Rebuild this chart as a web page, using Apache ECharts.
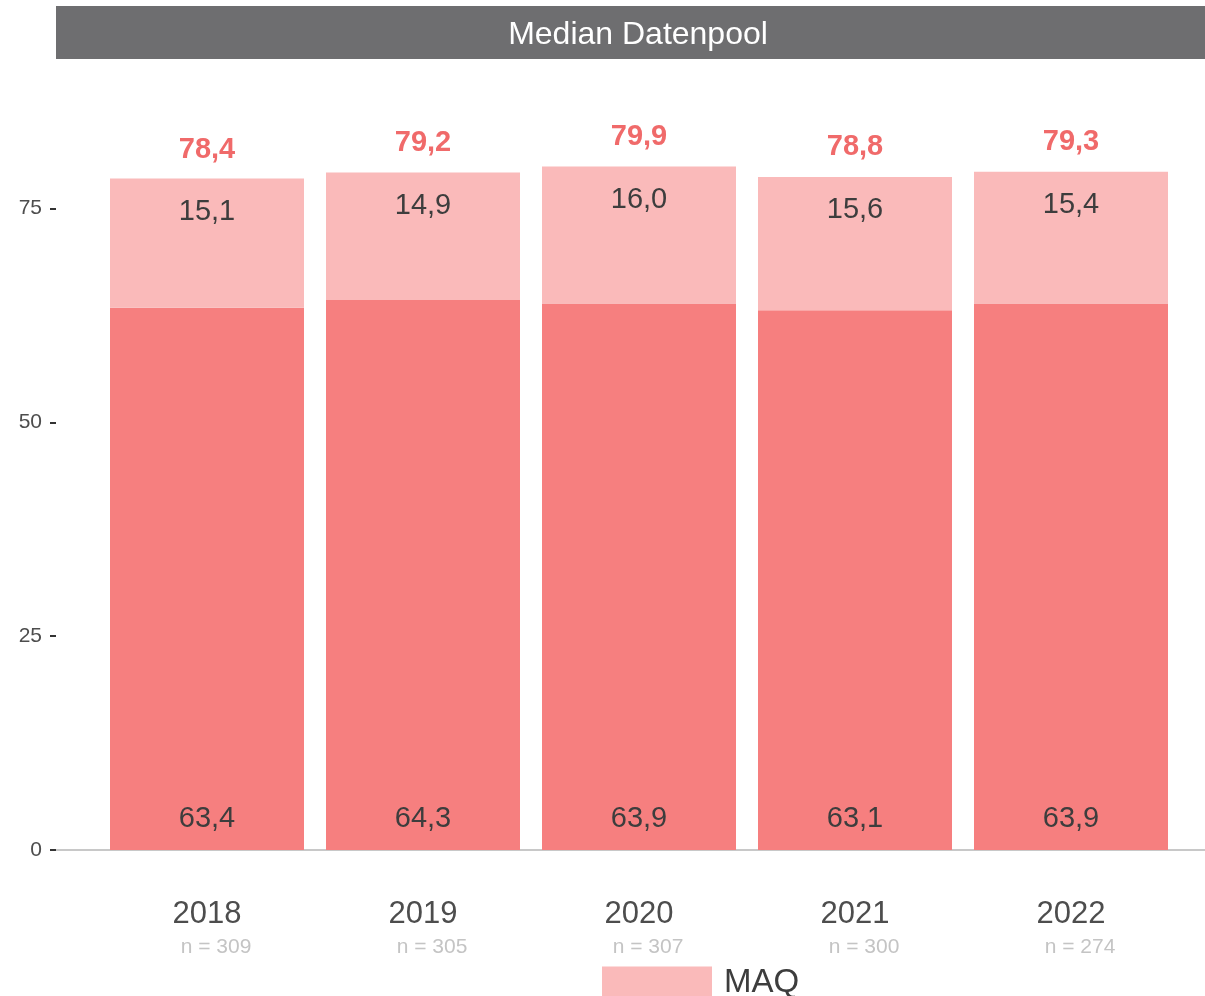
<!DOCTYPE html>
<html>
<head>
<meta charset="utf-8">
<script src="https://cdn.jsdelivr.net/npm/echarts@6/dist/echarts.min.js"></script>
<style>
  html, body { margin: 0; padding: 0; background: #fff; }
  #chart { width: 1205px; height: 996px; }
</style>
</head>
<body>
<div id="chart"></div>
<script>
// Daten
const years = ['2018', '2019', '2020', '2021', '2022']
const nCounts = [309, 305, 307, 300, 274]
const baseValues = [63.4, 64.3, 63.9, 63.1, 63.9]
const maqValues = [15.1, 14.9, 16.0, 15.6, 15.4]
const totals = [78.4, 79.2, 79.9, 78.8, 79.3]
const yTicks = [0, 25, 50, 75]

const fmt = v => v.toFixed(1).replace('.', ',')
const font = 'Liberation Sans, Arial, sans-serif'

const chart = echarts.init(document.getElementById('chart'))

chart.setOption({
    animation: false,
    textStyle: { fontFamily: font },
    graphic: [
        {
            type: 'rect',
            shape: { x: 56, y: 6, width: 1149, height: 53 },
            style: { fill: '#6e6e70' }
        },
        {
            type: 'text',
            x: 638, y: 35,
            style: {
                text: 'Median Datenpool',
                fill: '#ffffff',
                font: '32px ' + font,
                align: 'center',
                verticalAlign: 'middle'
            }
        }
    ],
    legend: {
        data: ['MAQ'],
        top: 961,
        left: 597,
        itemWidth: 110,
        itemHeight: 32,
        icon: 'rect',
        textStyle: { fontSize: 33, color: '#3d3d3d', fontFamily: font, padding: [0, 0, 0, 7] }
    },
    grid: [
        { left: 99, right: 26, top: 123, bottom: 146 },
        { left: 56, right: 0, top: 123, bottom: 146 }
    ],
    xAxis: [
        {
            type: 'category',
            gridIndex: 0,
            data: years,
            axisLine: { show: false },
            axisTick: { show: false },
            axisLabel: {
                margin: 46,
                formatter: (v, i) => `{y|${v}}\n{n|n = ${nCounts[i]}}`,
                rich: {
                    y: { fontSize: 31, color: '#4d4d4d', lineHeight: 36, fontFamily: font },
                    n: { fontSize: 21, color: '#c4c4c4', lineHeight: 30, padding: [0, 0, 0, 18], fontFamily: font }
                }
            }
        },
        {
            type: 'value',
            gridIndex: 1,
            min: 0, max: 1,
            axisLine: { show: true, onZero: false, lineStyle: { color: '#c8c8c8', width: 2 } },
            axisTick: { show: false },
            axisLabel: { show: false },
            splitLine: { show: false }
        }
    ],
    yAxis: [
        {
            type: 'value',
            gridIndex: 0,
            min: 0, max: 85,
            show: false,
            splitLine: { show: false }
        },
        {
            type: 'value',
            gridIndex: 1,
            min: 0, max: 85,
            axisLine: { show: false },
            splitLine: { show: false },
            axisTick: {
                show: true,
                length: 6,
                customValues: yTicks,
                lineStyle: { color: '#333', width: 2 }
            },
            axisLabel: {
                customValues: yTicks,
                fontSize: 21,
                color: '#4d4d4d',
                margin: 14,
                fontFamily: font
            }
        }
    ],
    series: [
        {
            name: 'Basis',
            type: 'bar',
            stack: 'a',
            xAxisIndex: 0, yAxisIndex: 0,
            barWidth: 194,
            data: baseValues,
            itemStyle: { color: '#f67f7f' },
            label: {
                show: true,
                position: 'insideBottom',
                distance: 17,
                fontSize: 29,
                color: '#3d3d3d',
                formatter: p => fmt(p.value)
            }
        },
        {
            name: 'MAQ',
            type: 'bar',
            stack: 'a',
            xAxisIndex: 0, yAxisIndex: 0,
            barWidth: 194,
            data: maqValues,
            itemStyle: { color: '#fababa' },
            label: {
                show: true,
                position: 'insideTop',
                distance: 19,
                fontSize: 29,
                color: '#3d3d3d',
                formatter: p => fmt(p.value)
            }
        },
        {
            // Gesamtwert, nur als Beschriftung über dem Balken
            name: 'Gesamt',
            type: 'bar',
            xAxisIndex: 0, yAxisIndex: 0,
            barWidth: 194,
            barGap: '-100%',
            data: totals,
            itemStyle: { color: 'rgba(255,255,255,0)' },
            label: {
                show: true,
                position: 'top',
                distance: 15,
                fontSize: 29,
                fontWeight: 'bold',
                color: '#f06a6a',
                formatter: p => fmt(p.value)
            }
        }
    ]
})
</script>
</body>
</html>
